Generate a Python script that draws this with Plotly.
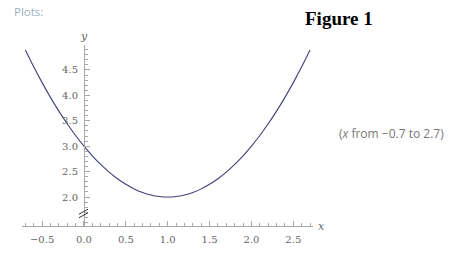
import plotly.graph_objects as go

# Data
x_vals = [-0.7, -0.6, -0.5, -0.4, -0.3, -0.2, -0.1, 0.0, 0.1, 0.2, 0.3, 0.4, 0.5, 0.6,
          0.7, 0.8, 0.9, 1.0, 1.1, 1.2, 1.3, 1.4, 1.5, 1.6, 1.7, 1.8, 1.9, 2.0, 2.1,
          2.2, 2.3, 2.4, 2.5, 2.6, 2.7]
y_vals = [4.89, 4.56, 4.25, 3.96, 3.69, 3.44, 3.21, 3.00, 2.81, 2.64, 2.49, 2.36, 2.25, 2.16,
          2.09, 2.04, 2.01, 2.00, 2.01, 2.04, 2.09, 2.16, 2.25, 2.36, 2.49, 2.64, 2.81, 3.00, 3.21,
          3.44, 3.69, 3.96, 4.25, 4.56, 4.89]
x_ticks = [-0.5, 0.0, 0.5, 1.0, 1.5, 2.0, 2.5]
y_ticks = [2.0, 2.5, 3.0, 3.5, 4.0, 4.5]

W, H = 456, 263
axis_col = "#a8a8a8"
lab_col = "#666666"
tick_font = dict(family="DejaVu Serif", size=10, color=lab_col)

fig = go.Figure()
fig.add_trace(go.Scatter(x=x_vals, y=y_vals, mode="lines", line_shape="spline",
                         line=dict(color="#3f3f78", width=1.1), hoverinfo="skip"))

fig.update_layout(
    width=W, height=H, margin=dict(l=0, r=0, t=0, b=0),
    paper_bgcolor="white", plot_bgcolor="white", showlegend=False,
    xaxis=dict(domain=[22 / W, 313.4 / W], range=[-0.74, 2.74], anchor="y",
               showgrid=False, zeroline=False, showline=True, linecolor=axis_col, linewidth=1,
               tickvals=x_ticks, tickformat=".1f", ticks="inside", ticklen=5,
               tickcolor=axis_col, tickfont=tick_font, ticklabelstandoff=4,
               minor=dict(dtick=0.1, tick0=0, ticks="inside", ticklen=3, tickcolor=axis_col,
                          showgrid=False)),
    yaxis=dict(domain=[1 - 226 / H, 1 - 45 / H], range=[1.43, 4.99], anchor="free",
               position=84 / W, showgrid=False, zeroline=False, showline=True,
               linecolor=axis_col, linewidth=1, tickvals=y_ticks, tickformat=".1f",
               ticks="inside", ticklen=5, tickcolor=axis_col, tickfont=tick_font,
               ticklabelstandoff=4,
               minor=dict(dtick=0.1, tick0=0, ticks="inside", ticklen=3, tickcolor=axis_col,
                          showgrid=False)),
)

# Axis labels
fig.add_annotation(x=321 / W, y=1 - 226 / H, xref="paper", yref="paper", text="<i>x</i>",
                   showarrow=False, font=dict(family="DejaVu Serif", size=11, color=lab_col),
                   xanchor="center", yanchor="middle")
fig.add_annotation(x=84 / W, y=1 - 37 / H, xref="paper", yref="paper", text="<i>y</i>",
                   showarrow=False, font=dict(family="DejaVu Serif", size=11, color=lab_col),
                   xanchor="center", yanchor="middle")

# Axis break marks
for dy in (-1.8, 1.8):
    fig.add_shape(type="line", xref="paper", yref="paper",
                  x0=79 / W, y0=1 - (216 + dy) / H, x1=88 / W, y1=1 - (211 + dy) / H,
                  line=dict(color="#333333", width=1))

# Header texts
fig.add_annotation(x=12 / W, y=1 - 12 / H, xref="paper", yref="paper", text="Plots:",
                   showarrow=False, font=dict(family="Open Sans", size=11.5, color="#9ab0c0"),
                   xanchor="left", yanchor="middle")
fig.add_annotation(x=338.5 / W, y=1 - 18 / H, xref="paper", yref="paper", text="<b>Figure 1</b>",
                   showarrow=False, font=dict(family="Liberation Serif", size=19, color="black"),
                   xanchor="center", yanchor="middle")
fig.add_annotation(x=446 / W, y=1 - 133 / H, xref="paper", yref="paper",
                   text="(<i>x</i> from −0.7 to 2.7)",
                   showarrow=False, font=dict(family="Open Sans", size=12, color="#777777"),
                   xanchor="right", yanchor="middle")

fig.write_html("out.html")
